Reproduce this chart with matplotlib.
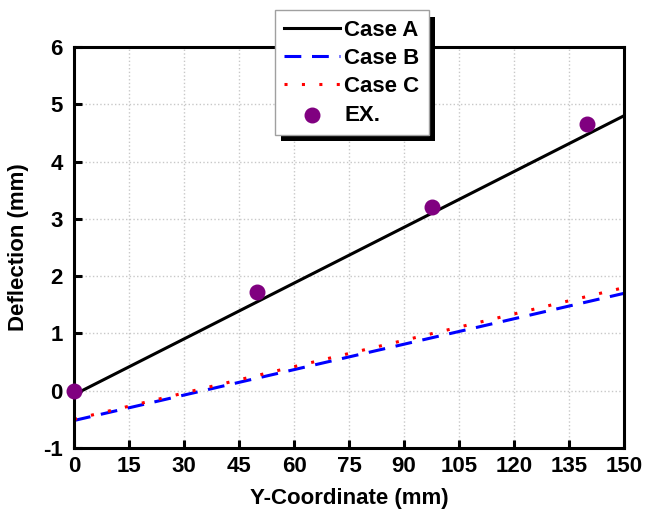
import matplotlib
matplotlib.use('Agg')
import matplotlib.pyplot as plt
import matplotlib.patheffects as pe

plt.rcParams['font.family'] = ['Liberation Sans', 'DejaVu Sans']
plt.rcParams['font.weight'] = 'bold'
plt.rcParams['axes.unicode_minus'] = False

# lines (endpoints)
x_line = [0, 150]
case_a = [-0.07, 4.8]
case_b = [-0.52, 1.70]
case_c = [-0.50, 1.80]

# experiment points
x_ex = [0, 50, 97.5, 140]
y_ex = [0.0, 1.72, 3.2, 4.65]

xticks = [0, 15, 30, 45, 60, 75, 90, 105, 120, 135, 150]
yticks = [-1, 0, 1, 2, 3, 4, 5, 6]

fig = plt.figure(figsize=(6.46, 5.13), dpi=100)
ax = fig.add_axes([0.1146, 0.1267, 0.8514, 0.7817])

ax.plot(x_line, case_a, color='black', lw=2.2, label='Case A')
ax.plot(x_line, case_b, color='blue', lw=2.2, dashes=(5.5, 3.5), label='Case B')
ax.plot(x_line, case_c, color='red', lw=2.2, dashes=(1, 4.7), label='Case C')
ax.scatter(x_ex, y_ex, s=110, color='purple', zorder=5, clip_on=False, label='EX.')

ax.set_xlim(0, 150)
ax.set_ylim(-1, 6)
ax.set_xticks(xticks)
ax.set_yticks(yticks)
ax.grid(True, ls=':', color='#c8c8c8', lw=1)
ax.tick_params(direction='in', width=2.2, length=6, labelsize=16)
ax.tick_params(axis='x', pad=6)
ax.tick_params(axis='y', pad=8)
for s in ax.spines.values():
    s.set_linewidth(2.2)

ax.set_xlabel('Y-Coordinate (mm)', fontsize=16, fontweight='bold', labelpad=8)
ax.set_ylabel('Deflection (mm)', fontsize=16, fontweight='bold', labelpad=10)

leg = ax.legend(loc='upper center', bbox_to_anchor=(0.545, 0.98), bbox_transform=fig.transFigure,
                fontsize=16, fancybox=False, framealpha=1, edgecolor='#a0a0a0',
                handlelength=2.5, handletextpad=0.2, borderaxespad=0,
                labelspacing=0.33, borderpad=0.42)
frame = leg.get_frame()
frame.set_linewidth(1)
frame.set_path_effects([pe.SimplePatchShadow(offset=(4.5, -4.5), shadow_rgbFace='black', alpha=1), pe.Normal()])

fig.savefig('out.png', dpi=100)
